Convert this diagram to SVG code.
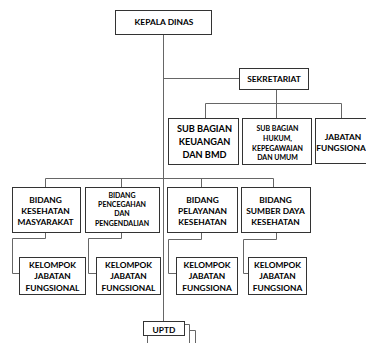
<svg xmlns="http://www.w3.org/2000/svg" width="366" height="343" viewBox="0 0 366 343">
<style>
.box{fill:#fff;stroke:#333;stroke-width:1}
.ln{fill:none;stroke:#666;stroke-width:1}
text{font-family:Lato,"Open Sans","Liberation Sans",sans-serif;font-weight:700;fill:#000;text-anchor:middle}
.m{font-size:8.4px}
.l{font-size:9.2px}
.s{font-size:7px}
</style>
<rect width="366" height="343" fill="#fff"/>
<g id="connectors">
<path class="ln" d="M163.5,34 V321"/>
<path class="ln" d="M163.5,78.5 H239"/>
<path class="ln" d="M276.5,89 V118 M205.5,118 V103.5 H341.5 V118"/>
<path class="ln" d="M45.5,187 V178.5 H273.5 V187 M121.5,178.5 V187 M201.5,178.5 V187"/>
<path class="ln" d="M45.5,232 V238.5 H12.5 V273.5 H19"/>
<path class="ln" d="M121.5,232 V238.5 H88.5 V273.5 H96"/>
<path class="ln" d="M201.5,232 V239.5 H168.5 V273.5 H176"/>
<path class="ln" d="M276.5,232 V239.5 H243.5 V273.5 H248"/>
<path class="ln" d="M147.5,335 V343"/>
</g>
<g id="kepala"><rect class="box" x="115.5" y="10.5" width="96" height="24"/><text class="m" x="164" y="25">KEPALA DINAS</text></g>
<g id="sekretariat"><rect class="box" x="239.5" y="68.5" width="69" height="21"/><text class="m" x="274" y="81.5">SEKRETARIAT</text></g>
<g id="keuangan"><rect class="box" x="168.5" y="118.5" width="70" height="46"/><text class="l" x="204.5" y="132">SUB BAGIAN</text><text class="l" x="204.5" y="145">KEUANGAN</text><text class="l" x="204.5" y="157.5">DAN BMD</text></g>
<g id="hukum"><rect class="box" x="242.5" y="118.5" width="69" height="46"/><text class="s" x="277.5" y="130.5">SUB BAGIAN</text><text class="s" x="277.5" y="140.5">HUKUM,</text><text class="s" x="277.5" y="150.5">KEPEGAWAIAN</text><text class="s" x="277.5" y="160">DAN UMUM</text></g>
<g id="jabatan"><rect class="box" x="315.5" y="118.5" width="60" height="45"/><text class="m" x="343" y="140">JABATAN</text><text class="m" x="341" y="151">FUNGSIONA</text></g>
<g id="bidang1"><rect class="box" x="12.5" y="187.5" width="68" height="45"/><text class="m" x="45.5" y="203">BIDANG</text><text class="m" x="45.5" y="213.5">KESEHATAN</text><text class="m" x="45.5" y="225">MASYARAKAT</text></g>
<g id="bidang2"><rect class="box" x="85.5" y="187.5" width="74" height="45"/><text class="s" x="122" y="197.5">BIDANG</text><text class="s" x="122" y="206.5">PENCEGAHAN</text><text class="s" x="122" y="216">DAN</text><text class="s" x="122" y="225.5">PENGENDALIAN</text></g>
<g id="bidang3"><rect class="box" x="167.5" y="187.5" width="70" height="45"/><text class="m" x="202.5" y="203">BIDANG</text><text class="m" x="202.5" y="213.5">PELAYANAN</text><text class="m" x="202.5" y="225">KESEHATAN</text></g>
<g id="bidang4"><rect class="box" x="241.5" y="187.5" width="69" height="45"/><text class="m" x="275.5" y="203">BIDANG</text><text class="m" x="275.5" y="213.5">SUMBER DAYA</text><text class="m" x="275.5" y="225">KESEHATAN</text></g>
<g id="kelompok1"><rect class="box" x="19.5" y="257.5" width="66" height="37"/><text class="m" x="52.5" y="268">KELOMPOK</text><text class="m" x="52.5" y="279">JABATAN</text><text class="m" x="52.5" y="290.5">FUNGSIONAL</text></g>
<g id="kelompok2"><rect class="box" x="96.5" y="257.5" width="64" height="37"/><text class="m" x="128.5" y="268">KELOMPOK</text><text class="m" x="128.5" y="279">JABATAN</text><text class="m" x="128.5" y="290.5">FUNGSIONAL</text></g>
<g id="kelompok3"><rect class="box" x="176.5" y="257.5" width="61" height="37"/><text class="m" x="207" y="268">KELOMPOK</text><text class="m" x="207" y="279">JABATAN</text><text class="m" x="207" y="290.5">FUNGSIONA</text></g>
<g id="kelompok4"><rect class="box" x="248.5" y="257.5" width="58" height="37"/><text class="m" x="277.5" y="268">KELOMPOK</text><text class="m" x="277.5" y="279">JABATAN</text><text class="m" x="277.5" y="290.5">FUNGSIONA</text></g>
<g id="uptd"><path class="ln" d="M184,324.5 H189.5 V343 M189.5,330.5 H195.5 V343"/><rect class="box" x="143.5" y="321.5" width="41" height="14"/><text class="m" x="164" y="333">UPTD</text></g>
</svg>
